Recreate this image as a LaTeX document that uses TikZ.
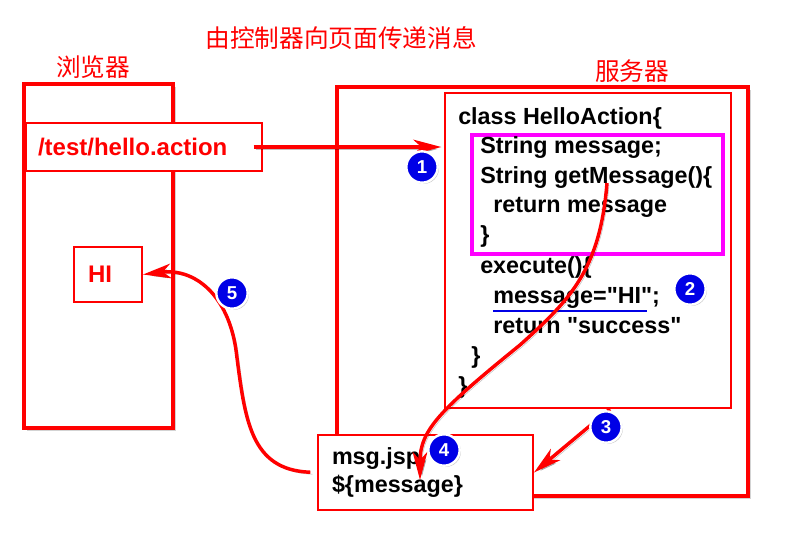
\documentclass[tikz,border=0pt]{standalone}
\usepackage{fontspec}
\setmainfont{Liberation Sans}
\newfontfamily\cjk{Noto Sans CJK SC}
\usetikzlibrary{arrows.meta,shadows}
\definecolor{bleu}{RGB}{0,0,230}
\definecolor{rose}{RGB}{255,0,255}

\begin{document}
\begin{tikzpicture}[x=0.75pt,y=-0.75pt,
    gros/.style={draw=red, line width=3pt, fill=white, drop shadow={opacity=0.35, shadow xshift=2pt, shadow yshift=-2pt}},
    fin/.style={draw=red, line width=1.5pt, fill=white},
    code/.style={anchor=base west, inner sep=0pt, font=\fontsize{17.5}{20}\selectfont\bfseries},
    rouge/.style={text=red, font=\fontsize{18}{20}\selectfont\bfseries},
    titre/.style={text=red, font=\cjk\fontsize{18.5}{20}\selectfont},
    num/.style={circle, fill=bleu, draw=white, line width=1.8pt, minimum size=23.5pt, inner sep=0pt, text=white, font=\fontsize{14}{14}\selectfont\bfseries, drop shadow={opacity=0.4, shadow xshift=1pt, shadow yshift=-1pt}},
    fleche/.style={red, line width=2.6pt, -{Stealth[length=21pt, width=11pt, inset=6pt]},
        preaction={draw=black, opacity=0.25, transform canvas={xshift=1.5pt, yshift=-1.5pt}}}]
    \useasboundingbox (0,0) rectangle (786,544);

    % Titres
    \node[titre] (titre) at (341,38) {由控制器向页面传递消息};
    \node[titre] (tnav) at (93,67) {浏览器};
    \node[titre] (tserv) at (632,71) {服务器};

    % Navigateur et serveur
    \node[gros, minimum width=111.75pt, minimum height=258pt] (nav) at (98.5,256) {};
    \node[gros, minimum width=308.25pt, minimum height=306.75pt] (serv) at (542.5,291.5) {};
    \node[draw=red, line width=1.5pt, minimum width=214.5pt, minimum height=236.25pt] (classe) at (588,250.5) {};
    \node[draw=rose, line width=2.8pt, minimum width=188.25pt, minimum height=89.25pt] (bloc) at (597.5,194.5) {};

    % Code de la classe
    \node[code] (c1) at (458,124) {class HelloAction\{};
    \node[code] (c2) at (480,153) {String message;};
    \node[code] (c3) at (480,183) {String getMessage()\{};
    \node[code] (c4) at (493,212) {return message};
    \node[code] (c5) at (480,242) {\}};
    \node[code] (c6) at (480,273) {execute()\{};
    \node[code] (c7) at (493,303) {message=\textquotedbl HI\textquotedbl;};
    \node[code] (c8) at (493,333) {return \textquotedbl success\textquotedbl};
    \node[code] (c9) at (471,363) {\}};
    \node[code] (c10) at (458,393) {\}};
    \draw[bleu, line width=1.6pt] ([yshift=-6pt]c7.base west) -- ++(154,0);

    % Boites
    \node[fin, rouge, anchor=west, inner xsep=9pt, text width=159pt, minimum height=36pt, align=left] (act) at (25,147) {/test/hello.action};
    \node[fin, rouge, anchor=west, inner xsep=10.5pt, text width=30pt, minimum height=41.25pt, align=left] (hi) at (73,274.5) {HI};
    \node[fin, anchor=west, inner xsep=10.5pt, text width=140.25pt, minimum height=56.25pt, align=left, font=\fontsize{17.5}{21}\selectfont\bfseries] (jsp) at (317,472.5) {msg.jsp\\\$\{message\}};

    % Fleches
    \coordinate (m1) at (607,183);
    \coordinate (m2) at (420,480);
    \draw[fleche, shorten <=-7pt, shorten >=2pt] (act.east) -- (act.east -| classe.west);
    \draw[fleche] (m1) .. controls (600,270) and (570,300) .. (520,345) .. controls (440,410) and (420,430) .. (m2);
    \draw[fleche] ([xshift=16.5pt]classe.south) -- (jsp.east);
    \draw[fleche, shorten <=5pt] (jsp.west) .. controls (250,470) and (245,420) .. (236,350) .. controls (228,295) and (195,268) .. (hi.east);

    % Numeros
    \node[num] (n1) at (422,167) {1};
    \node[num] (n2) at (690,289) {2};
    \node[num] (n3) at (606,427) {3};
    \node[num] (n4) at (444,450) {4};
    \node[num] (n5) at (232,293) {5};
\end{tikzpicture}
\end{document}
